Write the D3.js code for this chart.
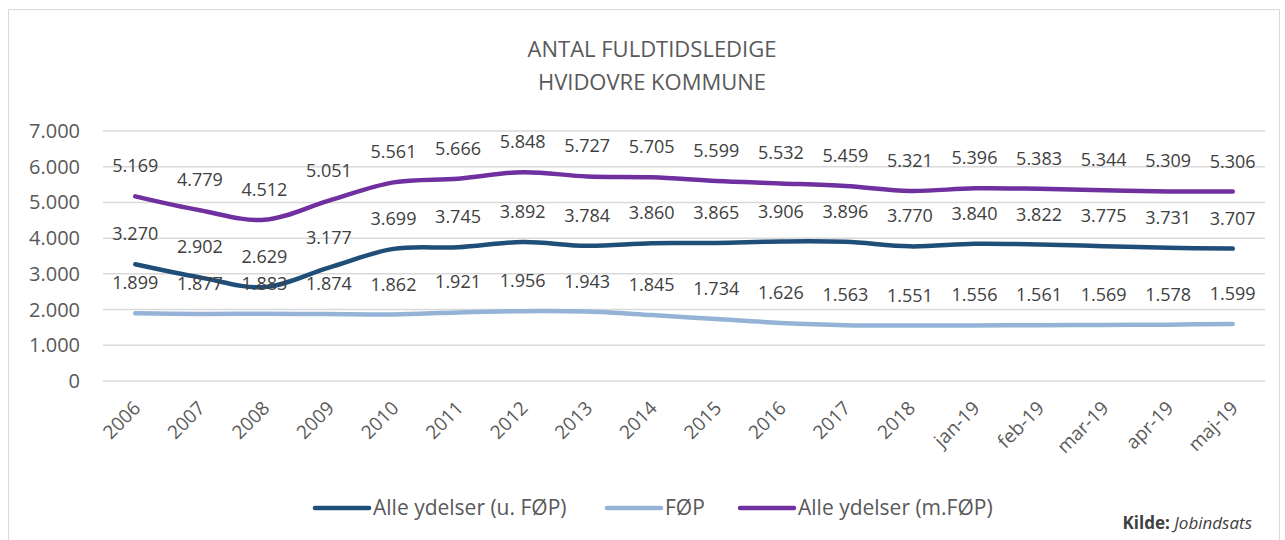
<!DOCTYPE html>
<html>
<head>
<meta charset="utf-8">
<script src="https://cdn.jsdelivr.net/npm/d3@7"></script>
<style>
  body { margin: 0; background: #fff; }
  svg { font-family: "Open Sans", "Noto Sans", sans-serif; }
</style>
</head>
<body>
<svg id="chart" width="1285" height="540"></svg>
<script>
const categories = ["2006", "2007", "2008", "2009", "2010", "2011", "2012", "2013", "2014",
  "2015", "2016", "2017", "2018", "jan-19", "feb-19", "mar-19", "apr-19", "maj-19"];

const udenFop = [3270, 2902, 2629, 3177, 3699, 3745, 3892, 3784, 3860, 3865, 3906, 3896,
  3770, 3840, 3822, 3775, 3731, 3707];
const fop = [1899, 1877, 1883, 1874, 1862, 1921, 1956, 1943, 1845, 1734, 1626, 1563,
  1551, 1556, 1561, 1569, 1578, 1599];
const medFop = [5169, 4779, 4512, 5051, 5561, 5666, 5848, 5727, 5705, 5599, 5532, 5459,
  5321, 5396, 5383, 5344, 5309, 5306];

const yTicks = [0, 1000, 2000, 3000, 4000, 5000, 6000, 7000];

const series = [
  { name: "Alle ydelser (u. FØP)", values: udenFop, color: "#1f4e79" },
  { name: "FØP", values: fop, color: "#95b3d7" },
  { name: "Alle ydelser (m.FØP)", values: medFop, color: "#7030a0" }
];

const locale = d3.formatLocale({ decimal: ",", thousands: ".", grouping: [3], currency: ["", " kr"] });
const fmt = locale.format(",d");

const svg = d3.select("#chart");

// chart frame
svg.append("rect")
  .attr("x", 8.5).attr("y", 9.5)
  .attr("width", 1271).attr("height", 540)
  .attr("fill", "none").attr("stroke", "#d9d9d9");

const x = d3.scalePoint().domain(categories).range([103, 1265]).padding(0.5);
const y = d3.scaleLinear().domain([0, 7000]).range([381, 131]);

// title
svg.append("text").attr("x", 652).attr("y", 57).attr("text-anchor", "middle")
  .attr("font-size", 22).attr("fill", "#595959").text("ANTAL FULDTIDSLEDIGE");
svg.append("text").attr("x", 652).attr("y", 90).attr("text-anchor", "middle")
  .attr("font-size", 22).attr("fill", "#595959").text("HVIDOVRE KOMMUNE");

// gridlines
svg.append("g")
  .selectAll("line")
  .data(yTicks)
  .join("line")
  .attr("x1", 103).attr("x2", 1265)
  .attr("y1", (d) => y(d)).attr("y2", (d) => y(d))
  .attr("stroke", "#d9d9d9").attr("stroke-width", 1.5);

// y axis labels
svg.append("g")
  .selectAll("text")
  .data(yTicks)
  .join("text")
  .attr("x", 80).attr("y", (d) => y(d))
  .attr("dy", "0.35em")
  .attr("text-anchor", "end")
  .attr("font-size", 20).attr("fill", "#595959")
  .text((d) => fmt(d));

// x axis labels
svg.append("g")
  .selectAll("text")
  .data(categories)
  .join("text")
  .attr("transform", (d) => `translate(${x(d) - 3},${400}) rotate(-45)`)
  .attr("text-anchor", "end")
  .attr("dy", "0.7em")
  .attr("font-size", 19).attr("fill", "#595959")
  .text((d) => d);

const line = d3.line()
  .x((d, i) => x(categories[i]))
  .y((d) => y(d))
  .curve(d3.curveCatmullRom.alpha(0.5));

series.forEach((s) => {
  svg.append("path")
    .datum(s.values)
    .attr("d", line)
    .attr("fill", "none")
    .attr("stroke", s.color)
    .attr("stroke-width", 4.5)
    .attr("stroke-linecap", "round");
});

// data labels
series.forEach((s) => {
  svg.append("g")
    .selectAll("text")
    .data(s.values)
    .join("text")
    .attr("x", (d, i) => x(categories[i]))
    .attr("y", (d) => y(d) - 24)
    .attr("text-anchor", "middle")
    .attr("font-size", 18).attr("fill", "#404040")
    .text((d) => fmt(d));
});

// legend
const legendX = [315, 607, 740];
const legend = svg.append("g")
  .selectAll("g")
  .data(series)
  .join("g")
  .attr("transform", (d, i) => `translate(${legendX[i]},508)`);
legend.append("line")
  .attr("x1", 0).attr("x2", 54)
  .attr("stroke", (d) => d.color).attr("stroke-width", 4.5)
  .attr("stroke-linecap", "round");
legend.append("text")
  .attr("x", 58).attr("dy", "0.35em")
  .attr("font-size", 21).attr("fill", "#595959")
  .text((d) => d.name);

// source
const src = svg.append("text").attr("x", 1252).attr("y", 529)
  .attr("text-anchor", "end").attr("font-size", 17).attr("fill", "#404040");
src.append("tspan").attr("font-weight", "bold").text("Kilde: ");
src.append("tspan").attr("font-style", "italic").text("Jobindsats");
</script>
</body>
</html>
